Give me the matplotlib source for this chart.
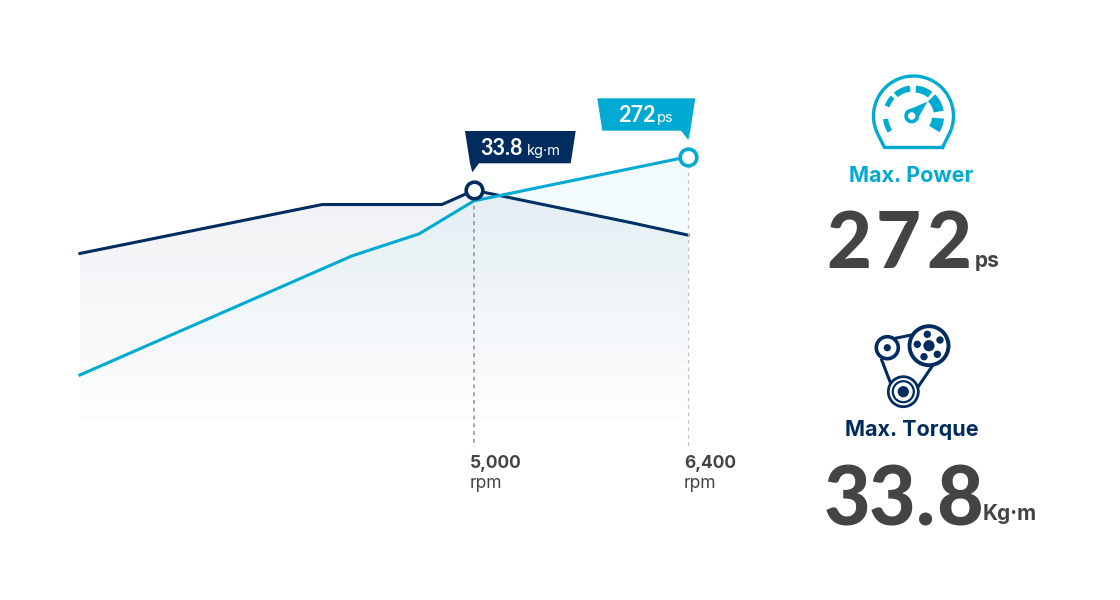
import numpy as np
import matplotlib.pyplot as plt
from matplotlib.patches import Circle, Polygon
from matplotlib.colors import to_rgb

plt.rcParams['font.family'] = ['Inter', 'Lato', 'DejaVu Sans']

# data
power_rpm = [2422, 4202, 4640, 5000, 6400]
power_ps = [46.5, 169.6, 192.3, 226.5, 272]
torque_rpm = [2422, 4006, 4790, 5000, 6034, 6400]
torque_kgm = [24.5, 31.7, 31.7, 33.8, 29.0, 27.2]
tick_rpm = [5000, 6400]
tick_labels = ['5,000', '6,400']

navy = '#002c5f'
cyan = '#00aad2'
grey = '#444444'

fig = plt.figure(figsize=(11.2, 6), dpi=100)

# torque and power share the rpm axis, each with its own y scale
ax = fig.add_axes([0, 0, 1, 1])
ax2 = ax.twinx()
ax2.set_position([0, 0, 1, 1])


def gradient_fill(axis, xs, ys, color, alpha):
    # vertical fade below a line, clipped to the area under it
    grad = np.zeros((256, 2, 4))
    grad[:, :, :3] = to_rgb(color)
    grad[:, :, 3] = np.linspace(alpha, 0.004, 256)[:, None]
    im = axis.imshow(grad, extent=[xs[0], xs[-1], 0, max(ys)], aspect='auto',
                     origin='upper', zorder=1)
    poly = Polygon(list(zip(xs, ys)) + [(xs[-1], 0), (xs[0], 0)], closed=True,
                   transform=axis.transData, fc='none', ec='none')
    axis.add_patch(poly)
    im.set_clip_path(poly)


gradient_fill(ax, torque_rpm, torque_kgm, navy, 0.065)
gradient_fill(ax2, power_rpm, power_ps, cyan, 0.06)
ax.set_xlim(1899, 9226)
ax.set_ylim(-26.5, 61.8)
ax2.set_ylim(-186, 434)

# dashed drop lines at the two peaks
ax.plot([5000, 5000], [33.8, -4], color='#a8a8a8', lw=1.4, ls=(0, (2, 2)), zorder=2)
ax2.plot([6400, 6400], [272, -28], color='#c4c4c4', lw=0.9, ls=(0, (3, 3)), zorder=2)

ax.plot(torque_rpm, torque_kgm, color=navy, lw=2.2, zorder=3)
ax2.plot(power_rpm, power_ps, color=cyan, lw=2.2, zorder=3)
ax2.plot([6400], [272], 'o', ms=12, mfc='white', mec=cyan, mew=2.6, zorder=4)
ax2.plot([5000], [33.8 * 6.8 / 0.967], 'o', ms=12, mfc='white', mec=navy, mew=2.6, zorder=5)

for rpm, lab in zip(tick_rpm, tick_labels):
    ax.annotate(lab, (rpm, 0), xytext=(-3, -31.5), textcoords='offset points',
                fontsize=12.5, fontweight='bold', color=grey, va='center')
    ax.annotate('rpm', (rpm, 0), xytext=(-3, -46), textcoords='offset points',
                fontsize=12.5, color=grey, va='center')
ax.axis('off')
ax2.axis('off')

# overlay in pixel coordinates for the callouts, icons and big numbers
ov = fig.add_axes([0, 0, 1, 1])
ov.set_xlim(0, 1120)
ov.set_ylim(600, 0)
ov.axis('off')
ov.patch.set_alpha(0)

ov.add_patch(Polygon([(465, 131), (575.7, 131), (570.7, 163.3), (479, 163.3),
                      (472.3, 172.3), (470, 163.3)], fc=navy, ec='none'))
ov.add_patch(Polygon([(597.3, 98.3), (695.3, 98.3), (690.3, 130.7), (688.3, 140),
                      (681, 130.7), (602.3, 130.7)], fc=cyan, ec='none'))
ov.text(480, 155, '33.8', color='white', fontsize=15.5, fontweight='bold', family='Lato')
ov.text(527, 155, 'kg·m', color='white', fontsize=10.5)
ov.text(618, 122, '272', color='white', fontsize=15.5, fontweight='bold', family='Lato')
ov.text(657, 122, 'ps', color='white', fontsize=10.5)


def ring_seg(cx, cy, r0, r1, a0, a1):
    a = np.radians(np.linspace(a0, a1, 20))
    outer = np.c_[cx + r1 * np.cos(a), cy - r1 * np.sin(a)]
    inner = np.c_[cx + r0 * np.cos(a[::-1]), cy - r0 * np.sin(a[::-1])]
    ov.add_patch(Polygon(np.r_[outer, inner], fc=cyan, ec='none'))


# speedometer icon
cx, cy = 913.5, 116
a = np.radians(np.linspace(-25, 205, 80))
rim_x = cx + 40 * np.cos(a)
rim_y = cy - 40 * np.sin(a)
rim_x = np.r_[cx + 29, rim_x, cx - 29, cx + 29]
rim_y = np.r_[147.5, rim_y, 147.5, 147.5]
ov.plot(rim_x, rim_y, color=cyan, lw=2.4, solid_joinstyle='round')
for r0, a0, a1 in [(25.5, 186, 213), (25.5, 138, 160), (24.5, 97, 130),
                   (23.5, 52, 85), (20.5, 10, 45), (18.5, -32, -5)]:
    ring_seg(cx, cy, r0, 30.6, a0, a1)
ov.add_patch(Polygon([(906, 111), (927.5, 101.5), (917, 120)], fc=cyan, ec='none'))
ov.add_patch(Circle((911.7, 116), 5.6, fc='white', ec=cyan, lw=2.6))

# belt and pulley icon
ov.plot([881.7, 890], [360, 381.7], color=navy, lw=2.2)
ov.plot([933, 918], [365, 387], color=navy, lw=2.2)
ov.plot([895, 911.7], [338.3, 335], color=navy, lw=2.2)
ov.add_patch(Circle((887.3, 347.7), 11, fc='white', ec=navy, lw=2.6))
ov.add_patch(Circle((887.3, 347.7), 3.6, fc=navy, ec='none'))
ov.add_patch(Circle((929, 345.7), 19.5, fc='white', ec=navy, lw=2.8))
ov.add_patch(Circle((929, 345.7), 5.6, fc=navy, ec='none'))
for hx, hy in [(927.3, 334.3), (940, 340), (937.3, 354.3), (924, 356.7), (917.3, 344.3)]:
    ov.add_patch(Circle((hx, hy), 3.7, fc=navy, ec='none'))
ov.add_patch(Circle((903.3, 391.7), 15, fc='white', ec=navy, lw=2))
ov.add_patch(Circle((903.3, 391.7), 10.5, fc='white', ec=navy, lw=1.6))
ov.add_patch(Circle((903.3, 391.7), 5.6, fc=navy, ec='none'))

# right-hand figures, big digits placed one by one for the wide tracking
ov.text(911.5, 176, 'Max. Power', color=cyan, fontsize=15.5, fontweight='bold',
        ha='center', va='center')
for x, ch in zip([848.5, 898.5, 948.5], '272'):
    ov.text(x, 268, ch, color=grey, fontsize=56, fontweight='black', family='Lato', ha='center')
ov.text(975, 267, 'ps', color=grey, fontsize=15, fontweight='bold')
ov.text(912, 430, 'Max. Torque', color=navy, fontsize=15.5, fontweight='bold',
        ha='center', va='center')
for x, ch in zip([847.5, 892.5, 926, 959.5], '33.8'):
    ov.text(x, 525, ch, color=grey, fontsize=58, fontweight='black', family='Lato', ha='center')
ov.text(983, 520, 'Kg·m', color=grey, fontsize=15, fontweight='bold')

plt.savefig('out.png', dpi=100)
plt.close()
